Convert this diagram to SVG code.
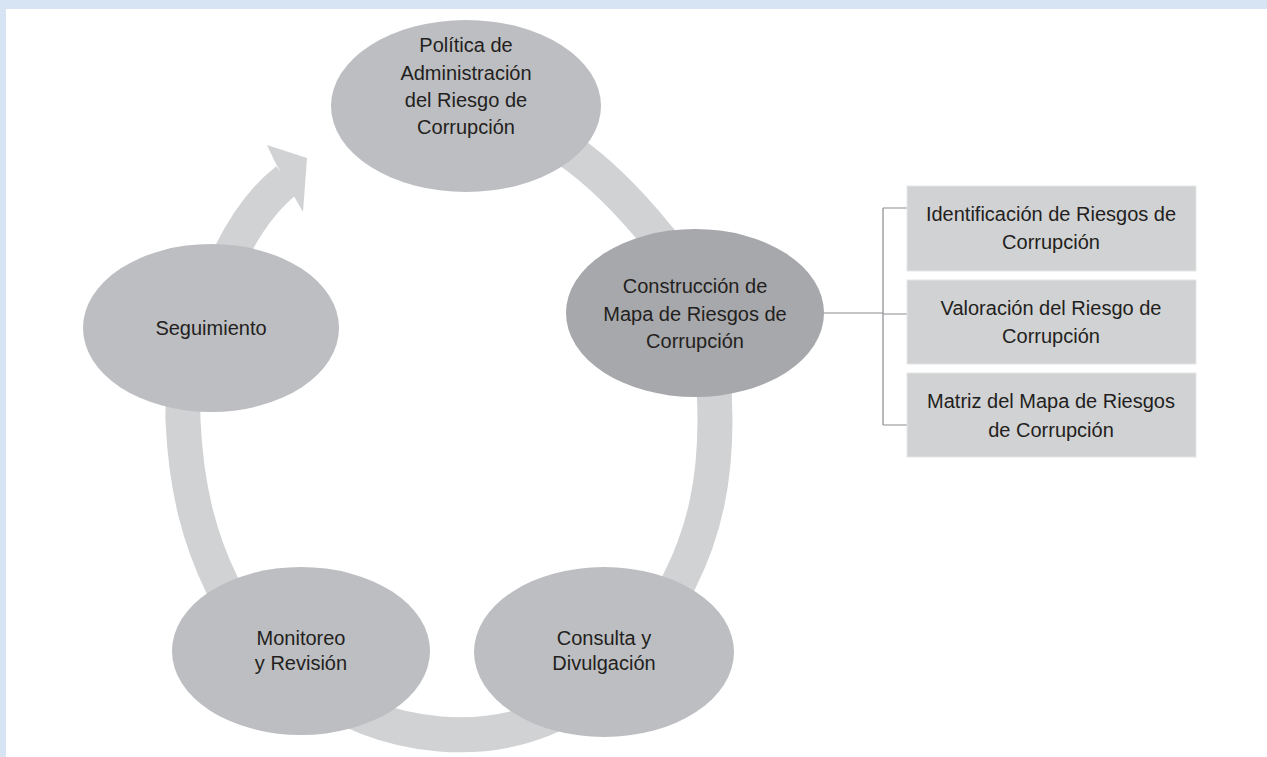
<svg xmlns="http://www.w3.org/2000/svg" width="1267" height="757" viewBox="0 0 1267 757">
<style>
.ell{fill:#bdbec1}
.dark{fill:#a7a8ab}
.box{fill:#d1d2d4;stroke:#e4e5e6;stroke-width:1}
.t{font-family:"Liberation Sans",Arial,sans-serif;font-size:20px;fill:#231f20;text-anchor:middle}
.ring{fill:none;stroke:#d1d2d4;stroke-width:35}
.conn{fill:none;stroke:#8a8b8e;stroke-width:1.2}
</style>
<rect x="0" y="0" width="1267" height="757" fill="#d6e4f4"/>
<rect x="6" y="9" width="1261" height="748" fill="#ffffff"/>
<g id="ring">
<path class="ring" d="M 287,180 C 265,197 245,225 230,255 C 200,315 181,370 183,420 C 186,490 200,540 222,585 C 255,650 330,725 440,734 C 540,742 630,690 680,580 C 705,530 715,480 715,420 C 715,330 690,272 657,236 C 630,203 600,172 568,150"/>
<polygon points="274,160 267,145 307,158 303,212 295,198" fill="#d1d2d4"/>
</g>
<g id="connectors">
<path class="conn" d="M 823,313 H 883 M 883,208 V 425 M 883,208 H 907 M 883,314 H 907 M 883,425 H 907"/>
</g>
<g id="politica">
<ellipse class="ell" cx="466" cy="106" rx="135" ry="86"/>
<text class="t" x="466" y="52">Política de</text>
<text class="t" x="466" y="80">Administración</text>
<text class="t" x="466" y="107">del Riesgo de</text>
<text class="t" x="466" y="134">Corrupción</text>
</g>
<g id="construccion">
<ellipse class="dark" cx="695" cy="313" rx="129" ry="84"/>
<text class="t" x="695" y="293">Construcción de</text>
<text class="t" x="695" y="321">Mapa de Riesgos de</text>
<text class="t" x="695" y="348">Corrupción</text>
</g>
<g id="seguimiento">
<ellipse class="ell" cx="211" cy="328" rx="128" ry="84"/>
<text class="t" x="211" y="335">Seguimiento</text>
</g>
<g id="monitoreo">
<ellipse class="ell" cx="301" cy="651" rx="129" ry="84"/>
<text class="t" x="301" y="645">Monitoreo</text>
<text class="t" x="301" y="670">y Revisión</text>
</g>
<g id="consulta">
<ellipse class="ell" cx="604" cy="652" rx="130" ry="85"/>
<text class="t" x="604" y="645">Consulta y</text>
<text class="t" x="604" y="670">Divulgación</text>
</g>
<g id="box1">
<rect class="box" x="907" y="186" width="289" height="85"/>
<text class="t" x="1051" y="221">Identificación de Riesgos de</text>
<text class="t" x="1051" y="249">Corrupción</text>
</g>
<g id="box2">
<rect class="box" x="907" y="280" width="289" height="84"/>
<text class="t" x="1051" y="315">Valoración del Riesgo de</text>
<text class="t" x="1051" y="343">Corrupción</text>
</g>
<g id="box3">
<rect class="box" x="907" y="373" width="289" height="84"/>
<text class="t" x="1051" y="408">Matriz del Mapa de Riesgos</text>
<text class="t" x="1051" y="437">de Corrupción</text>
</g>
</svg>
